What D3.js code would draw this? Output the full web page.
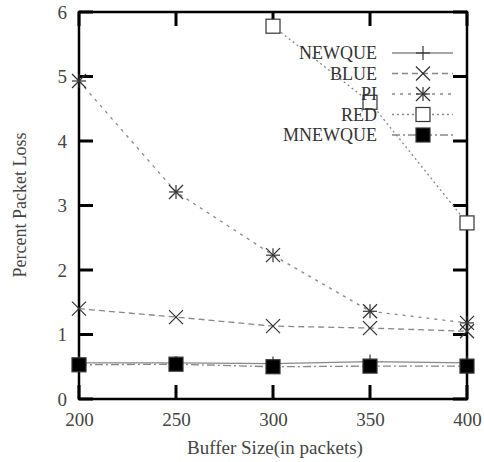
<!DOCTYPE html>
<html>
<head>
<meta charset="utf-8">
<script src="https://cdn.jsdelivr.net/npm/d3@7"></script>
<style>
  body { margin:0; background:#fff; }
  text { font-family:"Liberation Serif","DejaVu Serif",serif; }
</style>
</head>
<body>
<svg id="chart" width="484" height="462"></svg>
<script>
/* packet loss vs buffer size */
const BUFFERS = [200, 250, 300, 350, 400];
const NEWQUE  = [0.56, 0.56, 0.55, 0.58, 0.56];
const BLUE    = [1.40, 1.27, 1.13, 1.10, 1.05];
const PI      = [4.93, 3.21, 2.23, 1.36, 1.18];
const RED     = [null, null, 5.78, 4.60, 2.73];
const MNEWQUE = [0.53, 0.54, 0.50, 0.51, 0.51];
const Y_TICKS = [0, 1, 2, 3, 4, 5, 6];

const SERIES = [
  {name:"NEWQUE",  vals:NEWQUE,  dash:null,      mark:"plus"},
  {name:"BLUE",    vals:BLUE,    dash:"6,4",     mark:"cross"},
  {name:"PI",      vals:PI,      dash:"3,5",     mark:"star"},
  {name:"RED",     vals:RED,     dash:"2,3",     mark:"box"},
  {name:"MNEWQUE", vals:MNEWQUE, dash:"8,3,2,3", mark:"fbox"}
];

const M = {left:79, top:12, right:17, bottom:63};
const W = 484, H = 462;
const svg = d3.select("#chart");

const x = d3.scaleLinear().domain([200, 400]).range([M.left, W - M.right]);
const y = d3.scaleLinear().domain([0, 6]).range([H - M.bottom, M.top]);

/* ---------- axes (labels) ---------- */
const TK = 14;
function styleAxis(g){
  g.select(".domain").remove();
  g.selectAll(".tick line").remove();
  g.selectAll(".tick text").attr("fill","#444").style("font-size","19px");
}
svg.append("g").attr("transform",`translate(0,${y(0)})`)
  .call(d3.axisBottom(x).tickValues(BUFFERS).tickSize(0).tickPadding(14))
  .call(styleAxis);
svg.append("g").attr("transform",`translate(${x(200)},0)`)
  .call(d3.axisLeft(y).tickValues(Y_TICKS).tickFormat(d3.format("d")).tickSize(0).tickPadding(12))
  .call(styleAxis);

/* inward ticks on all four sides */
let tp = "";
BUFFERS.forEach(b => {
  tp += `M${x(b)},${y(0)}v${-TK}M${x(b)},${y(6)}v${TK}`;
});
Y_TICKS.forEach(v => {
  tp += `M${x(200)},${y(v)}h${TK}M${x(400)},${y(v)}h${-TK}`;
});
svg.append("path").attr("d",tp)
  .attr("fill","none").attr("stroke","#000").attr("stroke-width",3);

svg.append("rect")
  .attr("x",x(200)).attr("y",y(6))
  .attr("width",x(400)-x(200)).attr("height",y(0)-y(6))
  .attr("fill","none").attr("stroke","#000").attr("stroke-width",2.5);

/* ---------- titles ---------- */
svg.append("text").attr("x",275).attr("y",454)
  .attr("text-anchor","middle").attr("fill","#444").style("font-size","19px")
  .text("Buffer Size(in packets)");
svg.append("text")
  .attr("transform",`translate(26,205) rotate(-90)`)
  .attr("text-anchor","middle").attr("fill","#444").style("font-size","18px")
  .text("Percent Packet Loss");

/* ---------- markers ---------- */
function marker(g, kind, cx, cy){
  const s = 7;
  const ln = (x1,y1,x2,y2) => g.append("line")
    .attr("x1",cx+x1).attr("y1",cy+y1).attr("x2",cx+x2).attr("y2",cy+y2)
    .attr("stroke","#333").attr("stroke-width",1.2);
  if(kind==="plus"||kind==="star"){ ln(-s,0,s,0); ln(0,-s,0,s); }
  if(kind==="cross"||kind==="star"){ ln(-s,-s,s,s); ln(-s,s,s,-s); }
  if(kind==="box"||kind==="fbox"){
    g.append("rect").attr("x",cx-s).attr("y",cy-s).attr("width",2*s).attr("height",2*s)
      .attr("fill",kind==="fbox"?"#000":"#fff").attr("stroke","#333").attr("stroke-width",1.2);
  }
}

/* ---------- series ---------- */
const line = d3.line()
  .defined(d => d[1] != null)
  .x(d => x(d[0])).y(d => y(d[1]));

SERIES.forEach(s => {
  const pts = BUFFERS.map((b,i) => [b, s.vals[i]]);
  svg.append("path").datum(pts)
    .attr("d",line).attr("fill","none")
    .attr("stroke","#888").attr("stroke-width",1.3)
    .attr("stroke-dasharray",s.dash);
});
SERIES.forEach(s => {
  const g = svg.append("g");
  BUFFERS.forEach((b,i) => {
    if(s.vals[i] != null) marker(g, s.mark, x(b), y(s.vals[i]));
  });
});

/* ---------- legend ---------- */
const LX = 377, LY = 53, LS = 20.5;
SERIES.forEach((s,i) => {
  const ly = LY + i*LS;
  const g = svg.append("g");
  g.append("text").attr("x",LX).attr("y",ly).attr("dy","0.35em")
    .attr("text-anchor","end").attr("fill","#333").style("font-size","18px")
    .text(s.name);
  g.append("line").attr("x1",LX+15).attr("x2",LX+76).attr("y1",ly).attr("y2",ly)
    .attr("stroke","#888").attr("stroke-width",1.3).attr("stroke-dasharray",s.dash);
  marker(g, s.mark, LX+46, ly);
});
</script>
</body>
</html>
